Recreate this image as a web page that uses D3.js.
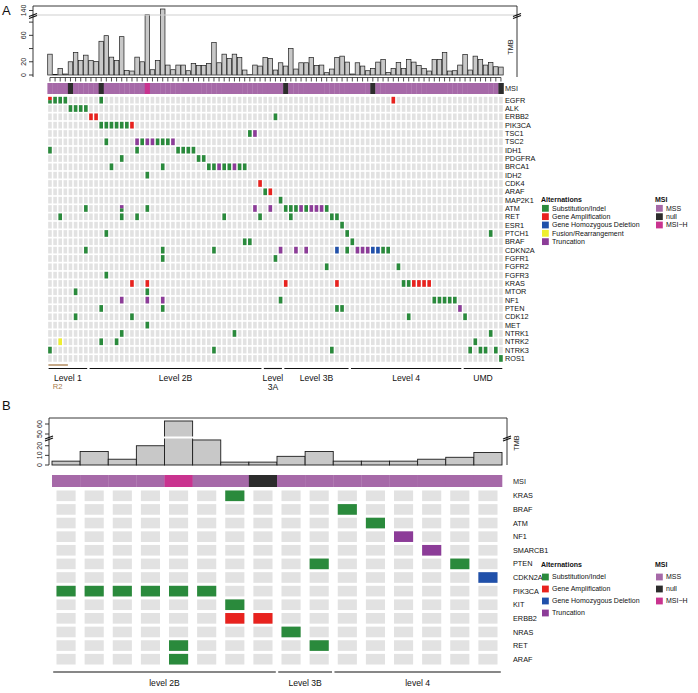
<!DOCTYPE html>
<html><head><meta charset="utf-8">
<script src="https://cdn.jsdelivr.net/npm/d3@7"></script>
<style>body{margin:0;background:#fff}svg text{font-family:"Liberation Sans",Arial,Helvetica,sans-serif}</style>
</head><body><svg id="c" width="698" height="693"></svg>
<script>
// ---------------- DATA: panel A ----------------
const genesA = ["EGFR","ALK","ERBB2","PIK3CA","TSC1","TSC2","IDH1","PDGFRA","BRCA1","IDH2","CDK4","ARAF","MAP2K1","ATM","RET","ESR1","PTCH1","BRAF","CDKN2A","FGFR1","FGFR2","FGFR3","KRAS","MTOR","NF1","PTEN","CDK12","MET","NTRK1","NTRK2","NTRK3","ROS1"];
const tmbA = [31.5,1,10,1.5,20,34,22,30,22,20.5,51,59.5,27,22,58,7,6,27,20,126,8,22,145,15,8,15,
  15,6.5,17.5,14.5,14.5,17.5,49,18.5,31.5,25,31.5,26.5,7.5,0.5,15,13.5,26.5,25,7.5,18.5,13.5,40,9,18.5,18.5,26.5,14.5,15,3.5,9,26.5,28.5,19.5,
  1.5,18.5,13.5,6.5,10,19.5,23.5,4,10,19,10,23.5,19.5,14.5,10,6,23.5,23.5,34,6,6.5,15,31,7.5,28.5,23.5,15,19,12.5,12];
const samplesA = tmbA.map((d,i)=>i+1);
const msiNullA = [5,11,47,64,89];
const msiHighA = [20];
// [gene, sample, type]  S=Substitution/Indel A=Amplification D=Homozygous deletion F=Fusion T=Truncation
const altA = [
 ["EGFR",1,"A"],["EGFR",1,"S"],["EGFR",2,"S"],["EGFR",3,"S"],["EGFR",4,"S"],["EGFR",11,"S"],["EGFR",68,"A"],
 ["ALK",5,"S"],["ALK",6,"S"],["ALK",7,"S"],["ALK",8,"S"],
 ["ERBB2",9,"A"],["ERBB2",10,"A"],["ERBB2",45,"S"],
 ["PIK3CA",11,"S"],["PIK3CA",12,"S"],["PIK3CA",13,"S"],["PIK3CA",14,"S"],["PIK3CA",15,"S"],["PIK3CA",16,"S"],["PIK3CA",17,"A"],
 ["TSC1",40,"S"],["TSC1",41,"T"],
 ["TSC2",12,"S"],["TSC2",18,"T"],["TSC2",19,"S"],["TSC2",20,"T"],["TSC2",21,"T"],["TSC2",22,"S"],["TSC2",23,"S"],["TSC2",24,"S"],["TSC2",25,"T"],
 ["IDH1",1,"S"],["IDH1",18,"S"],["IDH1",26,"S"],["IDH1",27,"S"],["IDH1",28,"S"],["IDH1",29,"S"],
 ["PDGFRA",15,"S"],["PDGFRA",30,"S"],["PDGFRA",31,"S"],
 ["BRCA1",13,"S"],["BRCA1",23,"S"],["BRCA1",32,"S"],["BRCA1",33,"S"],["BRCA1",34,"T"],["BRCA1",35,"S"],["BRCA1",36,"S"],["BRCA1",37,"T"],["BRCA1",38,"S"],["BRCA1",39,"S"],
 ["IDH2",20,"S"],
 ["CDK4",42,"A"],
 ["ARAF",43,"S"],["ARAF",44,"A"],
 ["MAP2K1",46,"S"],
 ["ATM",8,"S"],["ATM",15,"T"],["ATM",15,"S"],["ATM",20,"S"],["ATM",41,"T"],["ATM",44,"T"],["ATM",47,"S"],["ATM",48,"S"],["ATM",49,"S"],["ATM",50,"T"],["ATM",51,"S"],["ATM",52,"T"],["ATM",53,"T"],["ATM",54,"T"],["ATM",55,"S"],
 ["RET",3,"S"],["RET",15,"S"],["RET",18,"S"],["RET",35,"S"],["RET",42,"S"],["RET",48,"S"],["RET",56,"S"],["RET",57,"S"],
 ["ESR1",58,"S"],
 ["PTCH1",12,"S"],["PTCH1",59,"S"],["PTCH1",87,"S"],
 ["BRAF",39,"S"],["BRAF",40,"S"],["BRAF",60,"S"],
 ["CDKN2A",8,"S"],["CDKN2A",23,"S"],["CDKN2A",33,"S"],["CDKN2A",46,"T"],["CDKN2A",49,"T"],["CDKN2A",51,"T"],["CDKN2A",57,"D"],["CDKN2A",59,"S"],["CDKN2A",61,"T"],["CDKN2A",62,"T"],["CDKN2A",63,"T"],["CDKN2A",64,"D"],["CDKN2A",65,"D"],["CDKN2A",66,"S"],["CDKN2A",67,"S"],
 ["FGFR1",23,"S"],["FGFR1",45,"S"],
 ["FGFR2",55,"S"],["FGFR2",69,"S"],
 ["FGFR3",12,"S"],
 ["KRAS",17,"A"],["KRAS",20,"A"],["KRAS",47,"A"],["KRAS",57,"A"],["KRAS",70,"S"],["KRAS",71,"S"],["KRAS",72,"A"],["KRAS",73,"A"],["KRAS",74,"A"],["KRAS",75,"A"],
 ["MTOR",6,"S"],["MTOR",20,"S"],
 ["NF1",15,"T"],["NF1",20,"T"],["NF1",23,"T"],["NF1",46,"S"],["NF1",76,"S"],["NF1",77,"S"],["NF1",78,"S"],["NF1",79,"S"],["NF1",80,"S"],
 ["PTEN",11,"S"],["PTEN",23,"S"],["PTEN",57,"S"],["PTEN",58,"S"],["PTEN",81,"T"],
 ["CDK12",6,"S"],["CDK12",17,"S"],["CDK12",71,"S"],["CDK12",82,"S"],
 ["MET",20,"S"],
 ["NTRK1",15,"S"],["NTRK1",37,"S"],["NTRK1",87,"S"],
 ["NTRK2",3,"F"],["NTRK2",11,"S"],["NTRK2",14,"S"],["NTRK2",84,"S"],
 ["NTRK3",1,"S"],["NTRK3",33,"S"],["NTRK3",56,"S"],["NTRK3",83,"S"],["NTRK3",85,"S"],["NTRK3",86,"S"],["NTRK3",88,"S"],
 ["ROS1",89,"S"]
];
const levelsA = [["Level 1",1,8],["Level 2B",9,42],["Level|3A",43,46],["Level 3B",47,59],["Level 4",60,81],["UMD",82,89]];
const tickValsA = [0,20,40,60,80];
const tickLabsA = [0,20,60];
const tickUpA = [140];

// ---------------- DATA: panel B ----------------
const genesB = ["KRAS","BRAF","ATM","NF1","SMARCB1","PTEN","CDKN2A","PIK3CA","KIT","ERBB2","NRAS","RET","ARAF"];
const tmbB = [4,14,6,20,63,26,3,3,9,14,4,4,4,6,8,13];
const samplesB = tmbB.map((d,i)=>i+1);
const msiNullB = [8];
const msiHighB = [5];
const altB = [
 ["KRAS",7,"S"],["BRAF",11,"S"],["ATM",12,"S"],["NF1",13,"T"],["SMARCB1",14,"T"],
 ["PTEN",10,"S"],["PTEN",15,"S"],["CDKN2A",16,"D"],
 ["PIK3CA",1,"S"],["PIK3CA",2,"S"],["PIK3CA",3,"S"],["PIK3CA",4,"S"],["PIK3CA",5,"S"],["PIK3CA",6,"S"],
 ["KIT",7,"S"],["ERBB2",7,"A"],["ERBB2",8,"A"],["NRAS",9,"S"],["RET",5,"S"],["RET",10,"S"],["ARAF",5,"S"]
];
const levelsB = [["level 2B",1,8],["Level 3B",9,10],["level 4",11,16]];
const tickValsB = [0,10,20];
const tickUpB = [50,60];

const altLegend = [["S","Substitution/Indel"],["A","Gene Amplification"],["D","Gene Homozygous Deletion"],["F","Fusion/Rearrangement"],["T","Truncation"]];
const msiLegend = [["MSS","MSS"],["null","null"],["MSI-H","MSI\u2212H"]];

// ---------------- STYLE ----------------
const altColor = {S:"#2a8a3c",A:"#e8221e",D:"#2050aa",F:"#eeee30",T:"#8c3c98"};
const msiColor = {MSS:"#a669a8","null":"#2c2c2c","MSI-H":"#c9338f"};
const svg = d3.select("#c");

function panel(o){
  const g = svg.append("g");
  const xb = d3.scaleBand().domain(o.samples).range(o.xr).padding(0);
  const xc = d3.scaleBand().domain(o.samples).range(o.xr).paddingInner(o.padX).paddingOuter(o.padX/2);
  const y = d3.scaleBand().domain(o.genes).range(o.rowsR).paddingInner(o.padY).paddingOuter(o.padY/2);
  const yLo = d3.scaleLinear().domain(o.loDom).range([o.base,o.loTop]);
  const yUp = d3.scaleLinear().domain(o.upDom).range([o.upBot,o.top]);
  const yv = v => v <= o.loDom[1] ? yLo(v) : yUp(v);

  g.append("g").selectAll("rect").data(o.tmb).join("rect")
    .attr("x",(d,i)=>xb(o.samples[i])+o.barIn)
    .attr("width",xb.bandwidth()-2*o.barIn)
    .attr("y",d=>yv(d)).attr("height",d=>o.base-yv(d))
    .attr("fill","#c8c8c8").attr("stroke","#1c1c1c").attr("stroke-width",o.barSW);
  g.append("line").attr("x1",o.axisX).attr("x2",o.boxR).attr("y1",o.brk).attr("y2",o.brk)
    .attr("stroke",o.brkColor).attr("stroke-width",o.brkW);
  g.append("path").attr("d",`M${o.axisX},${o.boxBot}V${o.top-o.boxPad}H${o.boxR}V${o.boxBot}`)
    .attr("fill","none").attr("stroke","#222").attr("stroke-width",0.9);
  [o.axisX,o.boxR].forEach(bx=>{
    g.append("path").attr("d",`M${bx-4},${o.brk+1.5}L${bx+4},${o.brk-1.5}M${bx-4},${o.brk+3.5}L${bx+4},${o.brk+0.5}`)
      .attr("stroke","#111").attr("stroke-width",1.3);
  });
  const ax = g.append("g").attr("transform",`translate(${o.axisX},0)`);
  const ticks = o.tickVals.map(v=>({v,y:yLo(v),lab:o.tickLabs.includes(v)?String(v):""}))
    .concat(o.tickUp.map(v=>({v,y:yUp(v),lab:String(v)})));
  ticks.forEach(t=>{
    ax.append("line").attr("x1",-4).attr("x2",0).attr("y1",t.y).attr("y2",t.y).attr("stroke","#222").attr("stroke-width",0.9);
    if(t.lab) ax.append("text").attr("transform",`translate(-7,${t.y}) rotate(-90)`)
      .attr("text-anchor","middle").attr("font-size",o.tickFS).attr("fill","#222").text(t.lab);
  });
  if(o.xTicks){
    g.append("line").attr("x1",xb(o.samples[0])+xb.bandwidth()/2).attr("x2",xb(o.samples[o.samples.length-1])+xb.bandwidth()/2)
      .attr("y1",o.xTickY).attr("y2",o.xTickY).attr("stroke","#222").attr("stroke-width",0.8);
    g.append("g").selectAll("line").data(o.samples).join("line")
      .attr("x1",d=>xb(d)+xb.bandwidth()/2).attr("x2",d=>xb(d)+xb.bandwidth()/2)
      .attr("y1",o.xTickY).attr("y2",o.xTickY+4).attr("stroke","#222").attr("stroke-width",0.8);
  }
  g.append("text").attr("transform",`translate(${o.tmbX},${o.tmbY}) rotate(-90)`).attr("text-anchor","middle")
    .attr("font-size",o.labFS).attr("fill","#222").text("TMB");
  g.append("g").selectAll("rect").data(o.samples).join("rect")
    .attr("x",d=>xb(d)).attr("width",xb.bandwidth()+0.3)
    .attr("y",o.msiY[0]).attr("height",o.msiY[1]-o.msiY[0])
    .attr("fill",d=>msiColor[o.msiNull.includes(d)?"null":(o.msiHigh.includes(d)?"MSI-H":"MSS")]);
  g.append("text").attr("x",o.labX).attr("y",(o.msiY[0]+o.msiY[1])/2).attr("dy","0.35em")
    .attr("font-size",o.labFS).attr("fill","#222").text("MSI");
  const cells = d3.cross(o.genes,o.samples);
  g.append("g").selectAll("rect").data(cells).join("rect")
    .attr("x",d=>xc(d[1])).attr("y",d=>y(d[0])).attr("width",xc.bandwidth()).attr("height",y.bandwidth())
    .attr("fill","#e2e2e2");
  const grp = d3.group(o.alts,d=>d[0]+"|"+d[1]);
  const altRects = [];
  grp.forEach(arr=>arr.forEach((d,k)=>altRects.push({g:d[0],s:d[1],t:d[2],k,n:arr.length})));
  g.append("g").selectAll("rect").data(altRects).join("rect")
    .attr("x",d=>xc(d.s)).attr("width",xc.bandwidth())
    .attr("y",d=>y(d.g)+d.k*y.bandwidth()/d.n).attr("height",d=>y.bandwidth()/d.n)
    .attr("fill",d=>altColor[d.t]);
  g.append("g").selectAll("text").data(o.genes).join("text")
    .attr("x",o.labX).attr("y",d=>y(d)+y.bandwidth()/2).attr("dy","0.35em")
    .attr("font-size",o.labFS).attr("fill","#111").text(d=>d);
  o.levels.forEach(([name,a,b])=>{
    const x1 = xb(a)+1.2, x2 = xb(b)+xb.bandwidth()-1.2;
    g.append("line").attr("x1",x1).attr("x2",x2).attr("y1",o.lvlY).attr("y2",o.lvlY).attr("stroke","#111").attr("stroke-width",1.1);
    const parts = name.split("|");
    parts.forEach((p,i)=>g.append("text").attr("x",(x1+x2)/2).attr("y",o.lvlTY+i*o.lvlLH).attr("dy","0.35em")
      .attr("text-anchor","middle").attr("font-size",o.lvlFS).attr("fill","#111").text(p));
  });
  return {xb,y};
}

function legend(x,y0,dy,title,items,colors,fs){
  const g = svg.append("g");
  g.append("text").attr("x",x).attr("y",y0).attr("dy","0.35em").attr("font-size",fs).attr("font-weight","bold").attr("fill","#111").text(title);
  items.forEach(([k,lab],i)=>{
    const yy = y0+dy*(i+1);
    g.append("rect").attr("x",x+1).attr("y",yy-3.4).attr("width",6.8).attr("height",6.8).attr("fill",colors[k]);
    g.append("text").attr("x",x+11).attr("y",yy).attr("dy","0.35em").attr("font-size",fs).attr("fill","#111").text(lab);
  });
}

svg.append("text").attr("x",2).attr("y",15).attr("font-size",13).attr("fill","#111").text("A");
const pA = panel({
  samples:samplesA, genes:genesA, tmb:tmbA, alts:altA, msiNull:msiNullA, msiHigh:msiHighA, levels:levelsA,
  xr:[47.4,503.5], padX:0.3, rowsR:[96,362.6], padY:0.2,
  loDom:[0,90], base:75, loTop:15.5, upDom:[125,155], upBot:15, top:6, boxPad:0,
  brk:15, brkColor:"#cfcfcf", brkW:1, axisX:33, boxR:517, boxBot:77,
  tickVals:tickValsA, tickLabs:tickLabsA, tickUp:tickUpA, tickFS:7,
  barIn:0.3, barSW:0.7, xTicks:true, xTickY:77.5,
  tmbX:513, tmbY:47, msiY:[83,94], labX:505, labFS:7.3,
  lvlY:368.5, lvlTY:377.5, lvlLH:9, lvlFS:8.6
});
svg.append("line").attr("x1",pA.xb(1)+1).attr("x2",pA.xb(4)+pA.xb.bandwidth()).attr("y1",365).attr("y2",365).attr("stroke","#a87a4a").attr("stroke-width",1.3);
svg.append("text").attr("x",(pA.xb(1)+pA.xb(4)+pA.xb.bandwidth())/2).attr("y",386.5).attr("dy","0.35em").attr("text-anchor","middle").attr("font-size",7.6).attr("fill","#a87a4a").text("R2");
legend(541,200,8.33,"Alternations",altLegend,altColor,7);
legend(655,200,8.33,"MSI",msiLegend,msiColor,7);

svg.append("text").attr("x",2).attr("y",410).attr("font-size",13).attr("fill","#111").text("B");
const pB = panel({
  samples:samplesB, genes:genesB, tmb:tmbB, alts:altB, msiNull:msiNullB, msiHigh:msiHighB, levels:levelsB,
  xr:[52,502], padX:0.32, rowsR:[489,666], padY:0.22,
  loDom:[0,27], base:465, loTop:439, upDom:[48,66], upBot:436, top:418, boxPad:0,
  brk:437.5, brkColor:"#ffffff", brkW:2, axisX:49, boxR:507, boxBot:465,
  tickVals:tickValsB, tickLabs:tickValsB, tickUp:tickUpB, tickFS:7,
  barIn:0, barSW:0.9, xTicks:false, xTickY:0,
  tmbX:519, tmbY:443, msiY:[475,487], labX:513, labFS:7.3,
  lvlY:672, lvlTY:683, lvlLH:9, lvlFS:8.6
});
legend(541,565,12,"Alternations",altLegend.filter(d=>d[0]!=="F"),altColor,7);
legend(655,565,12,"MSI",msiLegend,msiColor,7);
</script></body></html>
